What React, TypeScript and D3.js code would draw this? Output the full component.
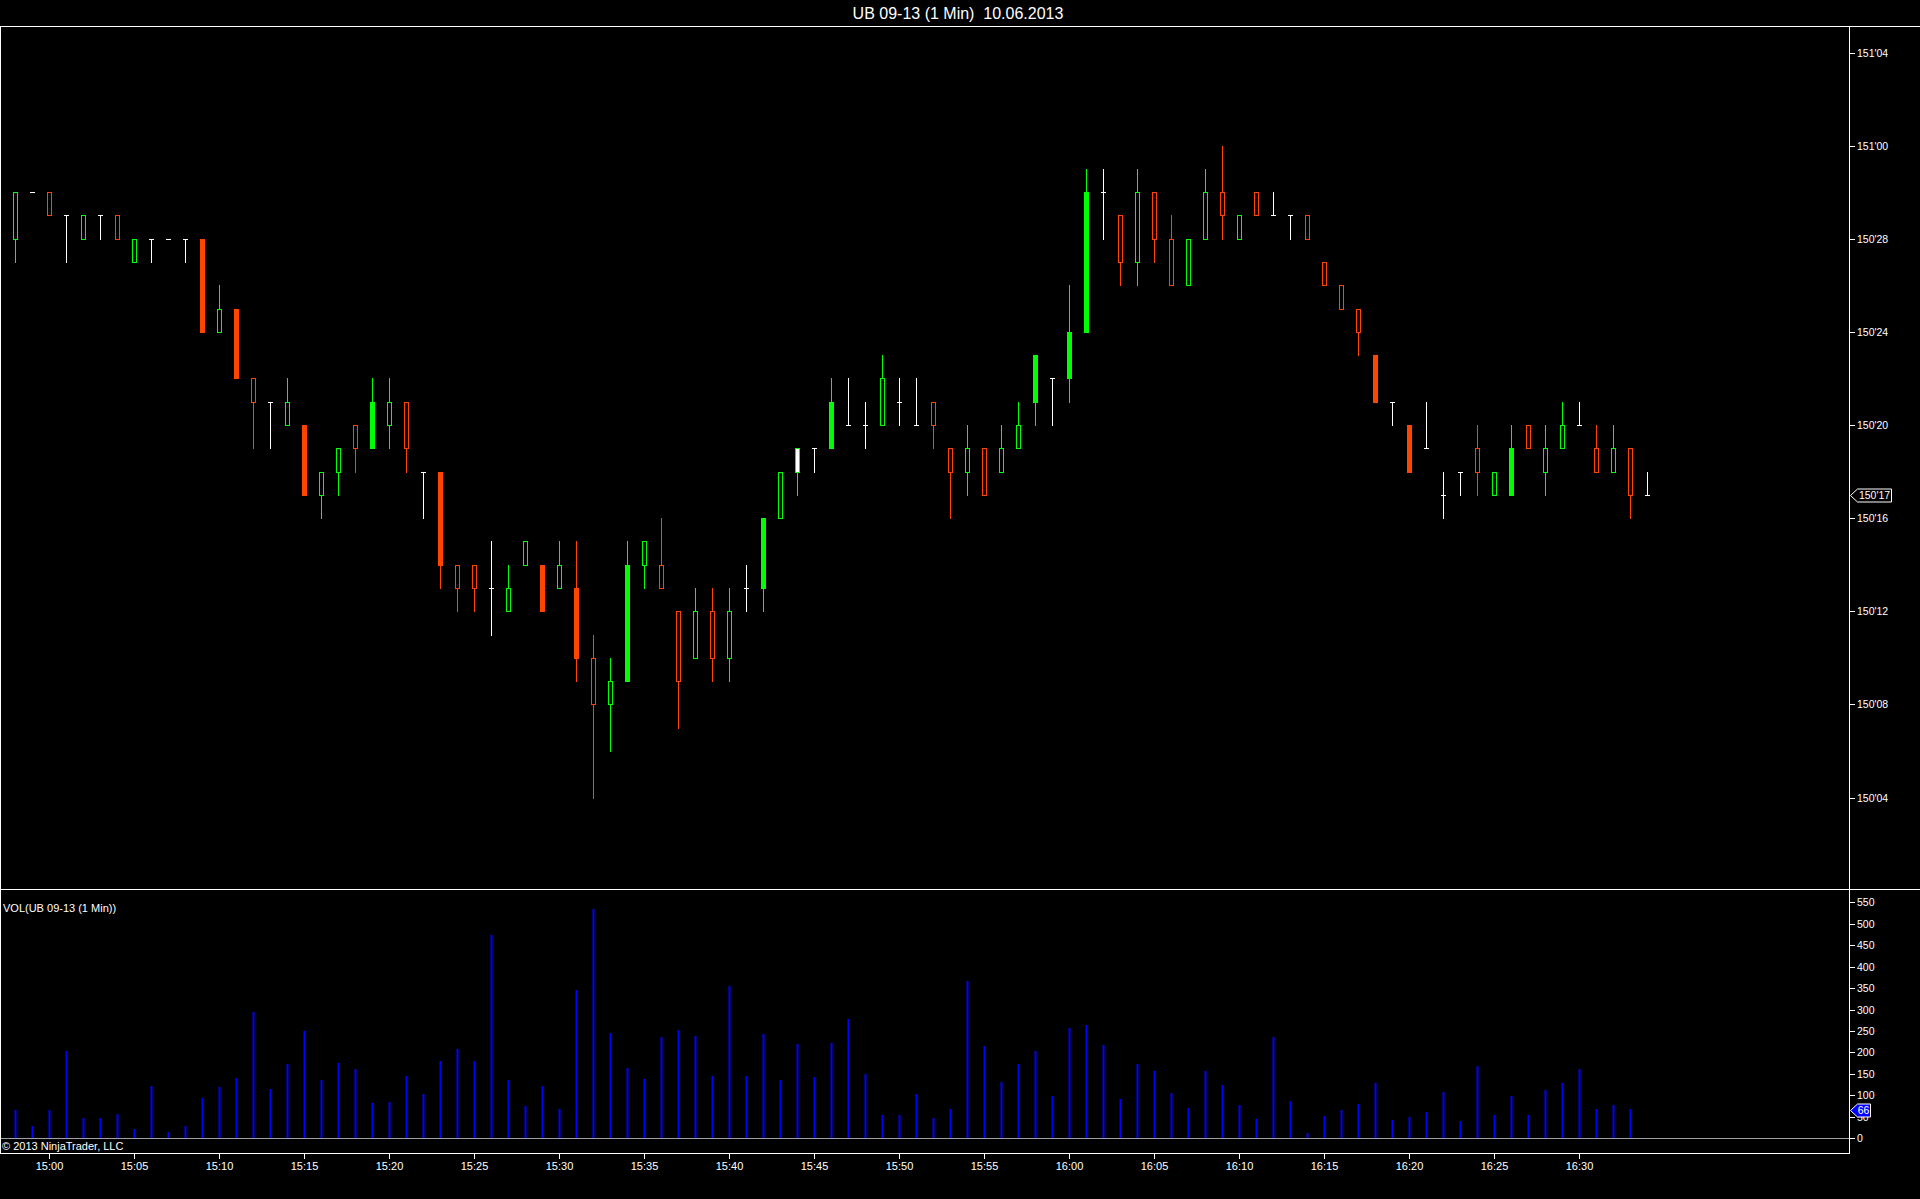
import React from "react";
import * as d3 from "d3";

const TITLE = "UB 09-13 (1 Min)  10.06.2013";
const VOL_LABEL = "VOL(UB 09-13 (1 Min))";
const COPYRIGHT = "\u00A9 2013 NinjaTrader, LLC";

// 1-minute bars from 14:58 to 16:34, minutes relative to 15:00
const barMinutes = d3.range(-2, 95);

// prices in 32nds above 150'00
const opens = [28, 30, 30, 29, 28, 29, 29, 27, 28, 28, 28, 28, 24, 25, 22, 21, 20, 20, 17, 18, 20, 19, 20, 21, 18, 18, 14, 14, 13, 12, 14, 14, 13, 13, 10, 8, 9, 14, 14, 12, 10, 12, 10, 13, 13, 16, 18, 19, 19, 20, 20, 20, 21, 20, 21, 19, 18, 19, 18, 19, 21, 22, 22, 24, 30, 29, 27, 30, 28, 26, 28, 30, 28, 30, 29, 29, 29, 27, 26, 25, 23, 21, 20, 19, 17, 18, 19, 17, 17, 20, 18, 19, 20, 19, 18, 19, 17];
const highs = [30, 30, 30, 29, 29, 29, 29, 28, 28, 28, 28, 28, 26, 25, 22, 21, 22, 20, 18, 19, 20, 22, 22, 21, 18, 18, 14, 14, 15, 14, 15, 14, 15, 15, 11, 10, 15, 15, 16, 12, 13, 13, 13, 14, 16, 18, 19, 19, 22, 22, 21, 23, 22, 22, 21, 19, 20, 19, 20, 21, 23, 22, 26, 31, 31, 29, 31, 30, 29, 28, 31, 32, 29, 30, 30, 29, 29, 27, 26, 25, 23, 21, 20, 21, 18, 18, 20, 18, 20, 20, 20, 21, 21, 20, 20, 19, 18];
const lows = [27, 30, 29, 27, 28, 28, 28, 27, 27, 28, 27, 24, 24, 22, 19, 19, 20, 17, 16, 17, 18, 19, 19, 18, 16, 13, 12, 12, 11, 12, 14, 12, 13, 9, 4, 6, 9, 13, 13, 7, 10, 9, 9, 12, 12, 16, 17, 18, 19, 20, 19, 20, 20, 20, 19, 16, 17, 17, 18, 19, 20, 20, 21, 24, 28, 26, 26, 27, 26, 26, 28, 28, 28, 29, 29, 28, 28, 26, 25, 23, 21, 20, 18, 19, 16, 17, 17, 17, 17, 19, 17, 19, 20, 18, 18, 16, 17];
const closes = [30, 30, 29, 29, 29, 29, 28, 28, 28, 28, 28, 24, 25, 22, 21, 21, 21, 17, 18, 19, 19, 21, 21, 19, 18, 14, 13, 13, 13, 13, 15, 12, 14, 10, 8, 9, 14, 15, 13, 9, 12, 10, 12, 13, 16, 18, 19, 19, 21, 20, 20, 22, 21, 20, 20, 18, 19, 17, 19, 20, 23, 22, 24, 30, 30, 27, 30, 28, 26, 28, 30, 29, 29, 29, 29, 29, 28, 26, 25, 24, 21, 21, 18, 19, 17, 18, 18, 18, 19, 19, 19, 20, 20, 18, 19, 17, 17];

// bars drawn with a solid body (1-based bar numbers)
const solidBars = [12, 14, 18, 22, 26, 32, 34, 37, 45, 49, 61, 63, 64, 81, 83, 89];
// bar drawn with a white body
const whiteBodyBars = [47];

const volumes = [66, 29, 66, 203, 47, 47, 57, 22, 122, 15, 29, 94, 120, 141, 294, 114, 173, 250, 136, 176, 162, 82, 85, 145, 103, 180, 208, 180, 474, 136, 75, 122, 68, 346, 534, 245, 164, 138, 236, 252, 239, 145, 355, 145, 243, 136, 220, 142, 222, 278, 150, 54, 54, 103, 47, 68, 367, 215, 131, 173, 204, 99, 257, 264, 218, 91, 173, 157, 106, 71, 157, 124, 78, 45, 236, 87, 12, 52, 66, 80, 129, 43, 50, 61, 108, 40, 169, 54, 99, 54, 113, 129, 162, 68, 78, 68];
const lastVolume = 66;
const lastPrice = 17;

const priceTicks = [4, 8, 12, 16, 20, 24, 28, 32, 36];
const volumeTicks = [0, 50, 100, 150, 200, 250, 300, 350, 400, 450, 500, 550];
const timeTickMinutes = [0, 5, 10, 15, 20, 25, 30, 35, 40, 45, 50, 55, 60, 65, 70, 75, 80, 85, 90];
const timeTickLabels = ["15:00", "15:05", "15:10", "15:15", "15:20", "15:25", "15:30", "15:35", "15:40", "15:45", "15:50", "15:55", "16:00", "16:05", "16:10", "16:15", "16:20", "16:25", "16:30"];

const UP = "#00FF00";
const DOWN = "#FF4500";
const NEUTRAL = "#FFFFFF";
const VOLC = "#0000FF";
const FONT = "'Liberation Sans', Arial, sans-serif";

const W = 1920;
const H = 1199;
const AXIS_X = 1849;
const TOP = 27;
const PANEL_SPLIT = 889;
const BOTTOM = 1153;

const fmtPrice = (t: number) => {
  const whole = 150 + Math.floor(t / 32);
  const frac = t % 32;
  return `${whole}'${String(frac).padStart(2, "0")}`;
};

export default function App() {
  const x = d3.scaleLinear().domain([0, 90]).range([49, 1579]);
  const yP = d3.scaleLinear().domain([4, 36]).range([797.5, 52.5]);
  const yV = d3.scaleLinear().domain([0, 550]).range([1138.3, 902.3]);

  const candles = barMinutes.map((m, i) => {
    const o = opens[i], h = highs[i], l = lows[i], c = closes[i];
    const cx = Math.round(x(m));
    const color = c > o ? UP : c < o ? DOWN : NEUTRAL;
    const yH = Math.round(yP(h));
    const yL = Math.round(yP(l));
    const bt = Math.round(yP(Math.max(o, c)));
    const bb = Math.round(yP(Math.min(o, c)));
    const solid = solidBars.includes(i + 1);
    const whiteBody = whiteBodyBars.includes(i + 1);
    const parts: React.ReactNode[] = [];
    parts.push(<rect key="w" x={cx} y={yH} width={1} height={yL - yH + 1} fill={color} />);
    if (o === c) {
      parts.push(<rect key="d" x={cx - 2} y={bt} width={5} height={1} fill={color} />);
    } else if (solid) {
      parts.push(<rect key="b" x={cx - 2} y={bt} width={5} height={bb - bt + 1} fill={color} />);
    } else {
      parts.push(
        <rect key="b" x={cx - 1.5} y={bt + 0.5} width={4} height={bb - bt} fill={whiteBody ? "#FFFFFF" : "#000000"} stroke={color} strokeWidth={1} />
      );
    }
    return <g key={i}>{parts}</g>;
  });

  const volBars = volumes.map((v, i) => {
    const cx = Math.round(x(barMinutes[i]));
    const top = Math.round(yV(v));
    const base = Math.round(yV(0));
    return <rect key={i} x={cx - 0.5} y={top} width={2} height={base - top} fill={VOLC} />;
  });

  const pmY = Math.round(yP(lastPrice)) + 0.5;
  const vmY = Math.round(yV(lastVolume)) + 0.5;

  return (
    <>
      <style>{`body{margin:0;background:#000;overflow:hidden}`}</style>
      <svg width={W} height={H} style={{ display: "block", background: "#000" }} fontFamily={FONT}>
        <rect x={0} y={0} width={W} height={H} fill="#000" />
        <text x={958} y={19} fill="#fff" fontSize={16} textAnchor="middle" style={{ whiteSpace: "pre" }}>{TITLE}</text>

        {/* frame */}
        <line x1={0} x2={W} y1={TOP - 0.5} y2={TOP - 0.5} stroke="#fff" />
        <line x1={0} x2={W} y1={PANEL_SPLIT + 0.5} y2={PANEL_SPLIT + 0.5} stroke="#fff" />
        <line x1={0.5} x2={0.5} y1={TOP} y2={BOTTOM + 0.5} stroke="#fff" />
        <line x1={AXIS_X + 0.5} x2={AXIS_X + 0.5} y1={TOP} y2={BOTTOM + 0.5} stroke="#fff" />
        <line x1={0} x2={AXIS_X + 1} y1={BOTTOM + 0.5} y2={BOTTOM + 0.5} stroke="#fff" />

        {/* price axis */}
        {priceTicks.map((t) => {
          const yy = Math.round(yP(t)) + 0.5;
          return (
            <g key={t}>
              <line x1={AXIS_X + 1} x2={AXIS_X + 6} y1={yy} y2={yy} stroke="#fff" />
              <text x={1857} y={yy + 3.8} fill="#fff" fontSize={10.5}>{fmtPrice(t)}</text>
            </g>
          );
        })}

        {candles}

        {/* last price marker */}
        <path d={`M${AXIS_X + 1.5},${pmY} L${1857.5},${pmY - 6.5} L${1891.5},${pmY - 6.5} L${1891.5},${pmY + 6.5} L${1857.5},${pmY + 6.5} Z`} fill="#000" stroke="#fff" />
        <text x={1874.5} y={pmY + 3.8} fill="#fff" fontSize={10.5} textAnchor="middle">{fmtPrice(lastPrice)}</text>

        {/* volume panel */}
        <text x={3} y={912} fill="#fff" fontSize={11}>{VOL_LABEL}</text>
        {volBars}
        <line x1={1} x2={AXIS_X} y1={Math.round(yV(0)) + 0.5} y2={Math.round(yV(0)) + 0.5} stroke="#A0A0A0" />
        {volumeTicks.map((v) => {
          const yy = Math.round(yV(v)) + 0.5;
          return (
            <g key={v}>
              <line x1={AXIS_X + 1} x2={AXIS_X + 6} y1={yy} y2={yy} stroke="#fff" />
              <text x={1857} y={yy + 3.8} fill="#fff" fontSize={10.5}>{v}</text>
            </g>
          );
        })}
        <path d={`M${AXIS_X + 1.5},${vmY} L${1857.5},${vmY - 6.5} L${1870.5},${vmY - 6.5} L${1870.5},${vmY + 6.5} L${1857.5},${vmY + 6.5} Z`} fill={VOLC} stroke="#fff" />
        <text x={1863.5} y={vmY + 3.8} fill="#fff" fontSize={10.5} textAnchor="middle">{lastVolume}</text>

        <text x={2} y={1150} fill="#fff" fontSize={11}>{COPYRIGHT}</text>

        {/* time axis */}
        {timeTickMinutes.map((m, i) => {
          const xx = Math.round(x(m)) + 0.5;
          return (
            <g key={m}>
              <line x1={xx} x2={xx} y1={BOTTOM + 1} y2={BOTTOM + 6} stroke="#fff" />
              <text x={xx} y={1170} fill="#fff" fontSize={11} textAnchor="middle">{timeTickLabels[i]}</text>
            </g>
          );
        })}
      </svg>
    </>
  );
}
